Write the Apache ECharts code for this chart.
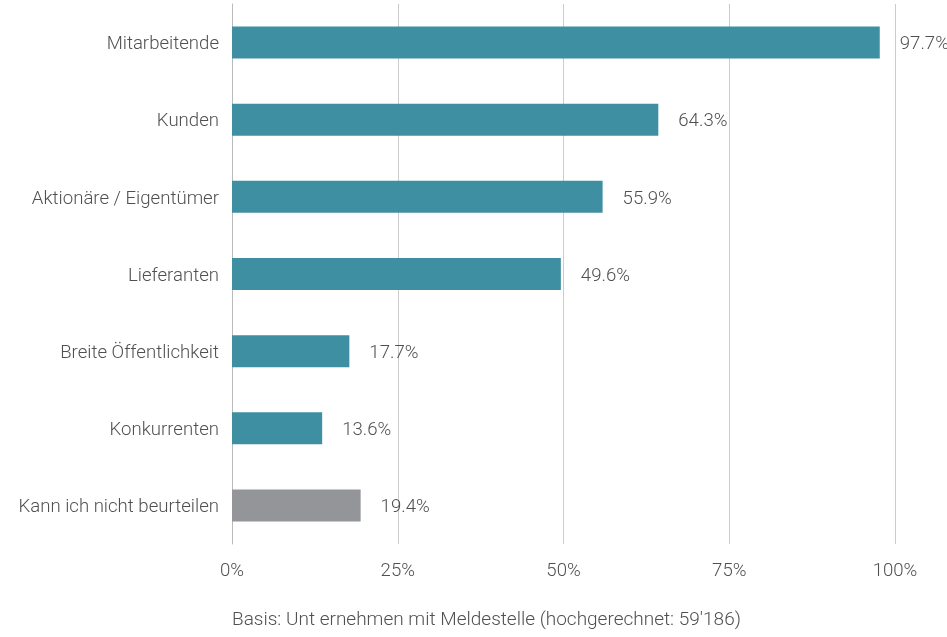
<!DOCTYPE html>
<html>
<head>
<meta charset="utf-8">
<style>
  html, body { margin: 0; padding: 0; background: #ffffff; }
  #chart { width: 947px; height: 637px; }
</style>
<script src="https://cdn.jsdelivr.net/npm/echarts@6/dist/echarts.min.js"></script>
</head>
<body>
<div id="chart"></div>
<script>
const categories = [
  'Mitarbeitende',
  'Kunden',
  'Aktionäre / Eigentümer',
  'Lieferanten',
  'Breite Öffentlichkeit',
  'Konkurrenten',
  'Kann ich nicht beurteilen'
];
const values = [97.7, 64.3, 55.9, 49.6, 17.7, 13.6, 19.4];
const barColors = ['#3f8fa2', '#3f8fa2', '#3f8fa2', '#3f8fa2', '#3f8fa2', '#3f8fa2', '#949599'];
const xTicks = [0, 25, 50, 75, 100];
const footnote = "Basis: Unt ernehmen mit Meldestelle (hochgerechnet: 59'186)";

const font = 'Roboto';
const textColor = '#505050';
const labelSize = 18.6;

// text style shared by category and value labels, nudged slightly below centre
const labelRich = {
  t: {
    color: textColor,
    fontFamily: font,
    fontWeight: 300,
    fontSize: labelSize,
    padding: [4, 0, 0, 0]
  }
};

const chart = echarts.init(document.getElementById('chart'), null, { renderer: 'canvas' });
chart.setOption({
  animation: false,
  backgroundColor: '#ffffff',
  grid: { left: 232, right: 52, top: 4, height: 540 },
  xAxis: {
    type: 'value',
    min: xTicks[0],
    max: xTicks[xTicks.length - 1],
    interval: xTicks[1] - xTicks[0],
    axisLine: { show: false },
    axisTick: { show: false },
    splitLine: { show: true, lineStyle: { color: '#cccccc', width: 1 } },
    axisLabel: {
      formatter: v => v + '%',
      color: textColor,
      fontFamily: font,
      fontWeight: 300,
      fontSize: labelSize,
      margin: 18
    }
  },
  yAxis: {
    type: 'category',
    inverse: true,
    data: categories,
    axisLine: { show: true, lineStyle: { color: '#bbbbbb', width: 1 } },
    axisTick: { show: false },
    axisLabel: {
      formatter: v => '{t|' + v + '}',
      rich: labelRich,
      margin: 13
    }
  },
  series: [{
    type: 'bar',
    barWidth: 32,
    data: values.map((v, i) => ({ value: v, itemStyle: { color: barColors[i] } })),
    label: {
      show: true,
      position: 'right',
      distance: 20,
      formatter: p => '{t|' + p.value.toFixed(1) + '%}',
      rich: labelRich
    }
  }],
  graphic: [{
    type: 'text',
    left: 232,
    top: 611,
    style: {
      text: footnote,
      fill: textColor,
      font: '300 19px Roboto'
    }
  }]
});
</script>
</body>
</html>
